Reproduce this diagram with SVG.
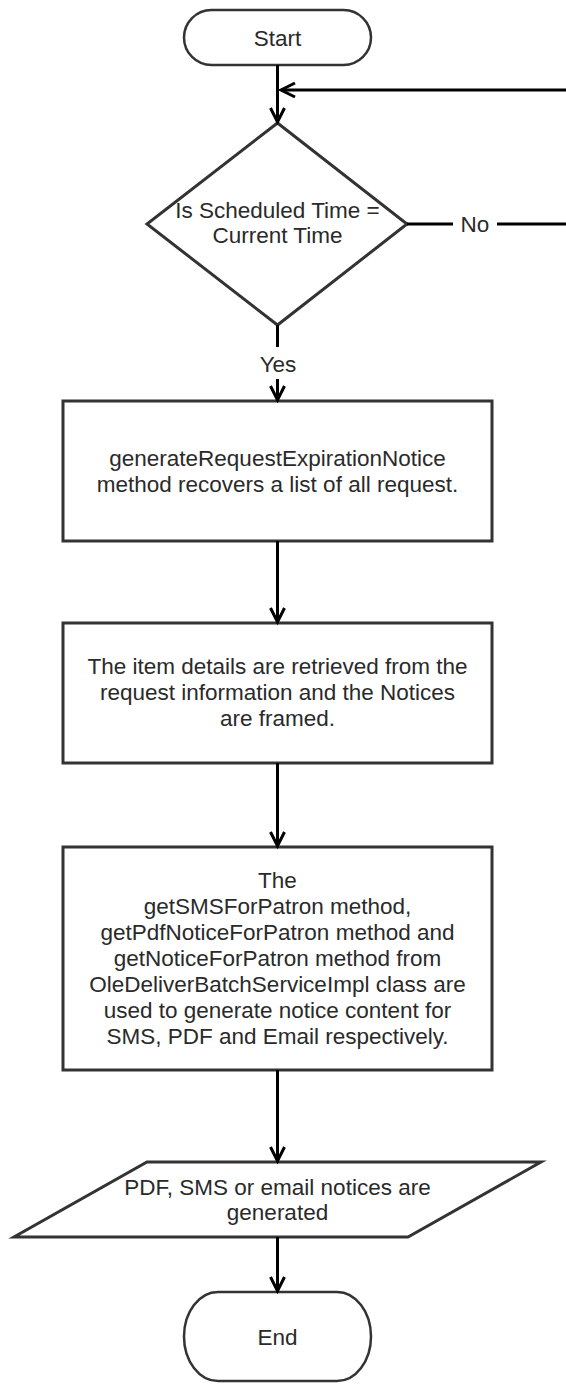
<svg xmlns="http://www.w3.org/2000/svg" width="566" height="1384" viewBox="0 0 566 1384">
  <style>
    .shape { fill: #ffffff; stroke: #333333; stroke-width: 3; }
    .term { fill: #ffffff; stroke: #333333; stroke-width: 2.5; }
    .lbl { font-family: "Liberation Sans", Arial, sans-serif; font-size: 22.5px; fill: #2a2a2a; text-anchor: middle; }
    .conn { fill: none; stroke: #000000; stroke-width: 3; }
  </style>
  <defs>
    <!-- open V arrowhead, tip at the end of the line -->
    <marker id="arrow" markerUnits="userSpaceOnUse" markerWidth="22" markerHeight="22" refX="17" refY="9" orient="auto" overflow="visible">
      <path d="M3,2 L17,9 L3,16" fill="none" stroke="#000000" stroke-width="3" stroke-linejoin="miter"/>
    </marker>
  </defs>

  <!-- Start terminator -->
  <g id="start">
    <rect class="term" x="184" y="10" width="187" height="55" rx="27.5" ry="27.5"/>
    <text class="lbl" x="277.5" y="45.5">Start</text>
  </g>

  <!-- Decision -->
  <g id="decision">
    <polygon class="shape" points="277.5,123 407,224 277.5,325 147,224"/>
    <text class="lbl" x="277.5" y="218">Is Scheduled Time =</text>
    <text class="lbl" x="277.5" y="243">Current Time</text>
  </g>

  <!-- Process 1 -->
  <g id="recover-requests">
    <rect class="shape" x="63" y="401" width="429" height="140"/>
    <text class="lbl" x="277.5" y="466">generateRequestExpirationNotice</text>
    <text class="lbl" x="277.5" y="492">method recovers a list of all request.</text>
  </g>

  <!-- Process 2 -->
  <g id="frame-notices">
    <rect class="shape" x="63" y="623" width="429" height="140"/>
    <text class="lbl" x="277.5" y="674">The item details are retrieved from the</text>
    <text class="lbl" x="277.5" y="700">request information and the Notices</text>
    <text class="lbl" x="277.5" y="726">are framed.</text>
  </g>

  <!-- Process 3 -->
  <g id="notice-content">
    <rect class="shape" x="63" y="847" width="429" height="223"/>
    <text class="lbl" x="277.5" y="888">The</text>
    <text class="lbl" x="277.5" y="914">getSMSForPatron method,</text>
    <text class="lbl" x="277.5" y="940">getPdfNoticeForPatron method and</text>
    <text class="lbl" x="277.5" y="966">getNoticeForPatron method from</text>
    <text class="lbl" x="277.5" y="992">OleDeliverBatchServiceImpl class are</text>
    <text class="lbl" x="277.5" y="1018">used to generate notice content for</text>
    <text class="lbl" x="277.5" y="1044">SMS, PDF and Email respectively.</text>
  </g>

  <!-- Output data -->
  <g id="notices-generated">
    <polygon class="shape" points="147,1162 541,1162 408,1237 14,1237"/>
    <text class="lbl" x="277.5" y="1195">PDF, SMS or email notices are</text>
    <text class="lbl" x="277.5" y="1220">generated</text>
  </g>

  <!-- End terminator -->
  <g id="end">
    <rect class="term" x="184" y="1292" width="187" height="89" rx="34" ry="44.5"/>
    <text class="lbl" x="277.5" y="1345">End</text>
  </g>

  <!-- Connectors -->
  <g id="connectors">
    <line class="conn" x1="277.5" y1="65" x2="277.5" y2="122" marker-end="url(#arrow)"/>
    <!-- loop back when the time does not match -->
    <line class="conn" x1="407" y1="224" x2="453" y2="224"/>
    <line class="conn" x1="497" y1="224" x2="566" y2="224"/>
    <text class="lbl" x="475" y="232">No</text>
    <line class="conn" x1="566" y1="90" x2="281" y2="90" marker-end="url(#arrow)"/>
    <!-- Yes branch -->
    <line class="conn" x1="277.5" y1="325" x2="277.5" y2="347"/>
    <text class="lbl" x="278" y="372">Yes</text>
    <line class="conn" x1="277.5" y1="379" x2="277.5" y2="400" marker-end="url(#arrow)"/>
    <line class="conn" x1="277.5" y1="541" x2="277.5" y2="622" marker-end="url(#arrow)"/>
    <line class="conn" x1="277.5" y1="763" x2="277.5" y2="846" marker-end="url(#arrow)"/>
    <line class="conn" x1="277.5" y1="1070" x2="277.5" y2="1161" marker-end="url(#arrow)"/>
    <line class="conn" x1="277.5" y1="1237" x2="277.5" y2="1291" marker-end="url(#arrow)"/>
  </g>
</svg>
